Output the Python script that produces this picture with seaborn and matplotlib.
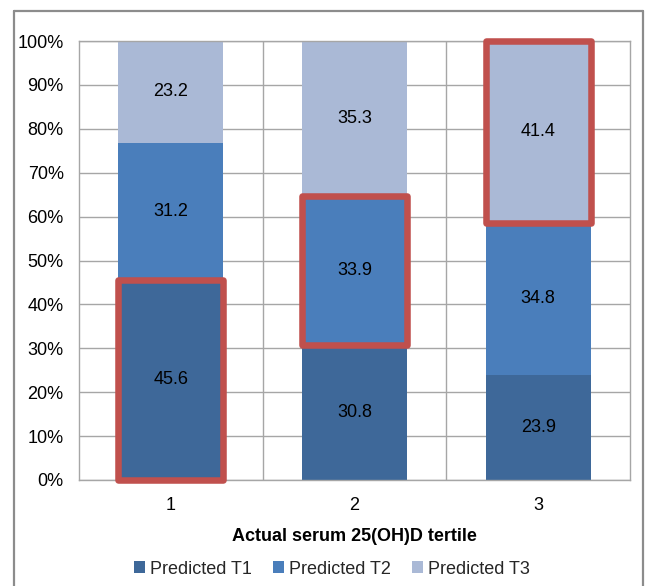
import matplotlib
matplotlib.use("Agg")
import matplotlib.pyplot as plt
from matplotlib.patches import Patch
from matplotlib.lines import Line2D
import numpy as np
import pandas as pd
import seaborn as sns

# Data: share of each predicted tertile within each actual tertile (%)
tertiles = ["1", "2", "3"]
series_names = ["Predicted T1", "Predicted T2", "Predicted T3"]
pred_t1 = [45.6, 30.8, 23.9]
pred_t2 = [31.2, 33.9, 34.8]
pred_t3 = [23.2, 35.3, 41.4]
# which segment in each bar gets the red outline (correct classification)
highlight = ["Predicted T1", "Predicted T2", "Predicted T3"]

colors = {"Predicted T1": "#3E6899", "Predicted T2": "#4A7EBB", "Predicted T3": "#AAB9D6"}
red = "#C0504D"
grid_gray = "#A6A6A6"

sns.set_theme(style="white")
plt.rcParams["font.family"] = ["Liberation Sans", "DejaVu Sans"]

values = np.array([pred_t1, pred_t2, pred_t3])  # series x category
totals = values.sum(axis=0)
shares = values / totals * 100  # 100% stacked
cum = np.cumsum(shares, axis=0)
bottoms = cum - shares

fig = plt.figure(figsize=(6.52, 5.86), dpi=100)
ax = fig.add_axes([79 / 652, 1 - 480 / 586, (630 - 79) / 652, (480 - 41) / 586])

bar_width = 0.57
# layered bars: draw cumulative tops from the largest down
for i in reversed(range(len(series_names))):
    df = pd.DataFrame({"tertile": tertiles, "top": cum[i]})
    sns.barplot(data=df, x="tertile", y="top", color=colors[series_names[i]],
                width=bar_width, saturation=1, ax=ax, zorder=2, linewidth=0,
                edgecolor="none")

# value labels centred in each segment
for i in range(len(series_names)):
    for j in range(len(tertiles)):
        ax.text(j, bottoms[i, j] + shares[i, j] / 2, f"{values[i, j]:.1f}",
                ha="center", va="center", fontsize=13, color="black", zorder=5)

# red outlines on highlighted segments
for j, name in enumerate(highlight):
    i = series_names.index(name)
    bars = ax.bar(j, shares[i, j], bottom=bottoms[i, j], width=bar_width, fill=False,
                  edgecolor=red, linewidth=4.7, zorder=4, clip_on=False)
    for b in bars:
        b.set_joinstyle("round")

ax.set_xlim(-0.5, 2.5)
ax.set_ylim(0, 100)
ax.set_yticks(np.arange(0, 101, 10))
ax.set_yticklabels([f"{v}%" for v in range(0, 101, 10)])
ax.set_xticks(range(len(tertiles)))
ax.set_xticklabels(tertiles)
ax.tick_params(axis="both", length=0, labelsize=13, colors="black")
ax.tick_params(axis="y", pad=11)
ax.tick_params(axis="x", pad=12)

# horizontal gridlines and category separators
ax.yaxis.grid(True, color=grid_gray, linewidth=1)
for b in [0.5, 1.5]:
    ax.axvline(b, color=grid_gray, linewidth=1, zorder=0.5)
ax.set_axisbelow(True)
for s in ax.spines.values():
    s.set_visible(True)
    s.set_color(grid_gray)
    s.set_linewidth(1)

ax.set_xlabel("Actual serum 25(OH)D tertile", fontsize=13, fontweight="bold",
              labelpad=10, color="black")
ax.set_ylabel("")

handles = [Patch(facecolor=colors[n], edgecolor="none", label=n) for n in series_names]
fig.legend(handles=handles, loc="center", bbox_to_anchor=(332 / 652, 1 - 569 / 586),
           ncol=3, frameon=False, fontsize=13, handlelength=0.6, handleheight=0.6,
           handletextpad=0.25, columnspacing=1.2, borderpad=0)

# outer chart border
border_kw = dict(color="#8C8C8C", linewidth=1.6, transform=fig.transFigure)
fig.add_artist(Line2D([14 / 652, 14 / 652], [0, 1 - 11 / 586], **border_kw))
fig.add_artist(Line2D([643 / 652, 643 / 652], [0, 1 - 11 / 586], **border_kw))
fig.add_artist(Line2D([14 / 652, 643 / 652], [1 - 11 / 586, 1 - 11 / 586], **border_kw))

fig.savefig("out.png", dpi=100, facecolor="white")
